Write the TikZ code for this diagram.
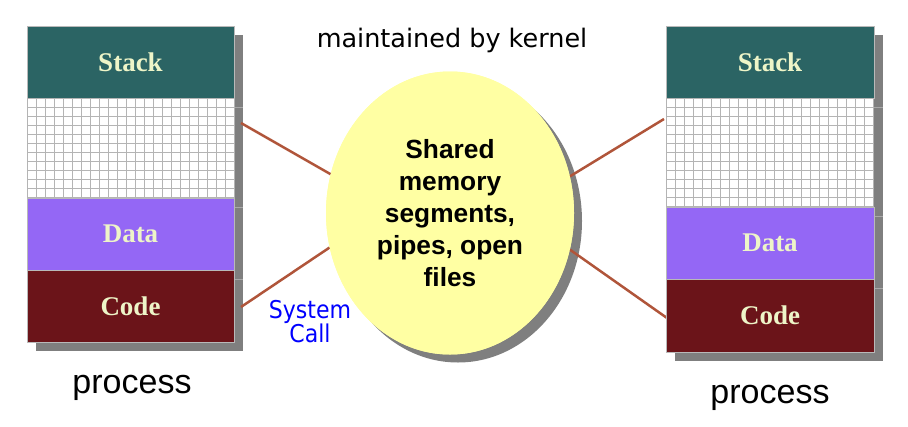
\documentclass[tikz,border=0pt]{standalone}
\usepackage{fontspec}
\setmainfont{Liberation Serif}
\setsansfont{Liberation Sans}
\newfontfamily\verdanafont{DejaVu Sans}
\newfontfamily\sysfont{DejaVu Sans Condensed}
\usetikzlibrary{shapes.geometric}
\definecolor{stackc}{HTML}{2B6464}
\definecolor{datac}{HTML}{9467F5}
\definecolor{codec}{HTML}{6B1419}
\definecolor{labelc}{HTML}{EEF5C8}
\definecolor{shadowc}{HTML}{7F7F7F}
\definecolor{shadowln}{HTML}{A8A8A8}
\definecolor{linkc}{HTML}{B0553A}
\definecolor{ellc}{HTML}{FFFFA3}
\definecolor{gridc}{HTML}{B4B4B4}
\tikzset{
  seg/.style={rectangle, anchor=north west, inner sep=0pt, outer sep=0pt,
    draw=gray!55, line width=0.5pt, text=labelc,
    font=\bfseries\fontsize{27}{30}\selectfont},
  gridbox/.style={rectangle, anchor=north west, inner sep=0pt, outer sep=0pt,
    fill=white},
  gridline/.style={draw=gridc, line width=0.8pt},
  shadowbox/.style={fill=shadowc, draw=shadowln, line width=0.8pt},
  link/.style={draw=linkc, line width=2.5pt},
  proclabel/.style={font=\sffamily\fontsize{34}{38}\selectfont},
}
\begin{document}
\begin{tikzpicture}[x=1pt,y=-1pt]
\useasboundingbox (0,0) rectangle (908,426);
% shadows
\fill[shadowc] (36,35) rectangle (243,351);
\draw[shadowln, line width=0.8pt] (234,107) -- (243,107) (234,207) -- (243,207) (234,279) -- (243,279);
\fill[shadowc] (675,35) rectangle (883,361);
\draw[shadowln, line width=0.8pt] (874,107) -- (883,107) (874,216) -- (883,216) (874,288) -- (883,288);
% ellipse shadow
\fill[shadowc] (458,221) ellipse [x radius=124, y radius=141.5];
% connectors
\node[ellipse, fill=ellc, inner sep=0pt, minimum width=248pt, minimum height=283pt] (shm) at (450,213) {};
\coordinate (la) at (241,123);
\coordinate (lb) at (241,307);
\coordinate (ra) at (664,119);
\coordinate (rb) at (667,318);
\draw[link] (la) -- (shm.162);
\draw[link] (lb) -- (shm.196);
\draw[link] (ra) -- (shm.17);
\draw[link] (rb) -- (shm.-17);
\node[ellipse, fill=ellc, inner sep=0pt, minimum width=248pt, minimum height=283pt] at (450,213) {};
\node[align=center, font=\sffamily\bfseries\fontsize{26.3}{32}\selectfont] (shmtext) at (shm.center) {Shared\\memory\\segments,\\pipes, open\\files};
% left process
\node[seg, fill=stackc, minimum width=207pt, minimum height=72pt] (lstack) at (27,26) {Stack};
\node[gridbox, minimum width=207pt, minimum height=100pt] (lgrid) at (27,98) {};
\foreach \x in {27,36,...,234} \draw[gridline] (\x,98) -- (\x,198);
\foreach \y in {98,107,...,197} \draw[gridline] (27,\y) -- (234,\y);
\node[seg, fill=datac, minimum width=207pt, minimum height=72pt] (ldata) at (27,198) {Data};
\node[seg, fill=codec, minimum width=207pt, minimum height=72pt] (lcode) at (27,270) {Code};
% right process
\node[seg, fill=stackc, minimum width=208pt, minimum height=72pt] (rstack) at (666,26) {Stack};
\node[gridbox, minimum width=208pt, minimum height=109pt] (rgrid) at (666,98) {};
\foreach \x in {666,675,...,874} \draw[gridline] (\x,98) -- (\x,207);
\foreach \y in {98,107,...,206} \draw[gridline] (666,\y) -- (874,\y);
\node[seg, fill=datac, minimum width=208pt, minimum height=72pt] (rdata) at (666,207) {Data};
\node[seg, fill=codec, minimum width=208pt, minimum height=73pt] (rcode) at (666,279) {Code};
% labels
\node[font=\verdanafont\fontsize{25.5}{30}\selectfont] (title) at (452,40) {maintained by kernel};
\node[proclabel] (lproc) at (132,388) {process};
\node[proclabel] (rproc) at (770,398) {process};
\node[align=center, text=blue, font=\sysfont\fontsize{24.5}{24}\selectfont, inner sep=0pt] (sys) at (310,322) {System\\Call};
\end{tikzpicture}
\end{document}
